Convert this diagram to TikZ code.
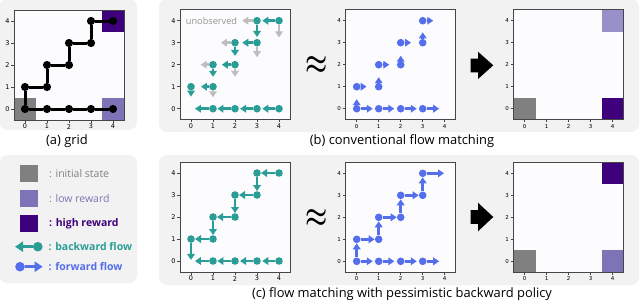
\documentclass[tikz,border=0pt]{standalone}
\usepackage{fontspec}
\setmainfont{Open Sans}
\newfontfamily\tickfam{DejaVu Sans}
\usetikzlibrary{arrows.meta}
\definecolor{panelbg}{RGB}{242,242,242}
\definecolor{plotbg}{RGB}{252,251,253}
\definecolor{initc}{RGB}{128,128,128}
\definecolor{lowc}{RGB}{125,115,183}
\definecolor{lowlc}{RGB}{152,144,200}
\definecolor{highc}{RGB}{63,0,125}
\definecolor{tealc}{RGB}{42,157,150}
\definecolor{bluec}{RGB}{84,110,236}
\definecolor{grayarr}{RGB}{190,190,190}
\definecolor{framec}{RGB}{70,70,70}
\definecolor{unobsc}{RGB}{150,150,150}
\tikzset{
  panel/.style={fill=panelbg, rounded corners=8pt},
  dotn/.style={circle, inner sep=0pt, minimum size=7.6pt, fill=#1},
  flowarr/.style={draw=#1, line width=2.8pt, -{Triangle[length=6pt,width=7.6pt]}},
  pathline/.style={draw=black, line width=3pt},
  framel/.style={draw=framec, line width=0.7pt},
  tickl/.style={draw=framec, line width=0.6pt},
  cell/.style={inner sep=0pt, minimum size=22pt},
  caption/.style={font=\fontsize{12.9}{15}\selectfont, inner sep=0pt},
  legtext/.style={anchor=west, inner sep=0pt, font=\fontsize{10.5}{12}\selectfont},
  legsq/.style={inner sep=0pt, minimum width=18pt, minimum height=17pt},
  approxs/.style={font=\fontsize{30}{30}\selectfont\boldmath, inner sep=0pt, yscale=1.3},
}
\newcommand{\plotback}{\fill[plotbg] (-0.5,-0.5) rectangle (4.5,4.5);}
\newcommand{\plotframe}[2]{%
  \draw[framel] (-0.5,-0.5) rectangle (4.5,4.5);
  \foreach \k in {0,...,4}{%
    \draw[tickl] (\k,-0.5) -- (\k,-0.62);
    \draw[tickl] (-0.5,\k) -- (-0.62,\k);
    \node[inner sep=0pt, font=\tickfam\fontsize{#2}{#2}\selectfont] (#1x\k) at (\k,-0.8) {\k};
    \node[inner sep=0pt, font=\tickfam\fontsize{#2}{#2}\selectfont] (#1y\k) at (-0.8,\k) {\k};
  }%
}
\begin{document}
\begin{tikzpicture}[x=1pt,y=-1pt]
\useasboundingbox (0,0) rectangle (640,303);
% panels
\fill[panel] (-0.5,-1) rectangle (137,130);
\fill[panel] (159,-1) rectangle (639,132);
\fill[panel] (-0.5,155) rectangle (137,283);
\fill[panel] (159,155) rectangle (639,285);

% ---------- (a) grid ----------
\begin{scope}[shift={(25,109)},x=22pt,y=22pt]
  \plotback
  \node[cell, fill=initc] (acell1) at (0,0) {};
  \node[cell, fill=lowc] (acell2) at (4,0) {};
  \node[cell, fill=highc] (acell3) at (4,4) {};
  \plotframe{a}{6.5}
  \foreach \p/\q in {0/0,1/0,2/0,3/0,4/0,0/1,1/1,1/2,2/2,2/3,3/3,3/4,4/4}
    \node[dotn=black, minimum size=8.2pt] (a\p\q) at (\p,\q) {};
  \draw[pathline] (a00) -- (a01) -- (a11) -- (a12) -- (a22) -- (a23) -- (a33) -- (a34) -- (a44);
  \draw[pathline] (a00) -- (a10) -- (a20) -- (a30) -- (a40);
\end{scope}
\node[caption] (capa) at (67,141.5) {(a) grid};

% ---------- (b1) backward, conventional ----------
\begin{scope}[shift={(191,108.7)},x=22pt,y=22pt]
  \plotback
  \plotframe{b}{6.5}
  \foreach \p/\q in {1/0,2/0,3/0,4/0,0/1,1/1,1/2,2/2,2/3,3/3,3/4,4/4}
    \node[dotn=tealc] (b\p\q) at (\p,\q) {};
  \foreach \s/\ex/\ey in {11/1/0.52,12/0.44/2,22/2/1.45,23/1.36/3,33/3/2.34,34/2.33/4,44/4/3.24}{
    \coordinate (b\s g) at (\ex,\ey);
    \draw[flowarr=grayarr] (b\s) -- (b\s g);
  }
  \foreach \s/\ex/\ey in {10/0.18/0,20/1.2/0,30/2.23/0,40/3.24/0,01/0/0.55,11/0.45/1,12/1/1.45,22/1.4/2,23/2/2.4,33/2.33/3,34/3/3.26,44/3.24/4}{
    \coordinate (b\s e) at (\ex,\ey);
    \draw[flowarr=tealc] (b\s) -- (b\s e);
  }
\end{scope}
\node[inner sep=0pt, text=unobsc, font=\fontsize{9.2}{10}\selectfont] (unobs) at (211.5,21.5) {unobserved};

\node[approxs] (approx1) at (317,65) {$\approx$};

% ---------- (b2) forward, conventional ----------
\begin{scope}[shift={(356.7,108.7)},x=22pt,y=22pt]
  \plotback
  \plotframe{f}{5.5}
  \foreach \p/\q in {0/0,1/0,2/0,3/0,0/1,1/1,1/2,2/2,2/3,3/3,3/4}
    \node[dotn=bluec] (f\p\q) at (\p,\q) {};
  \foreach \s/\ex/\ey in {00/0.73/0,10/1.71/0,20/2.73/0,30/3.75/0,01/0.45/1,11/1/1.43,12/1.48/2,22/2/2.41,23/2.47/3,33/3/3.47,34/3.48/4}{
    \coordinate (f\s e) at (\ex,\ey);
    \draw[flowarr=bluec] (f\s) -- (f\s e);
  }
  \coordinate (f00u) at (0,0.43);
  \draw[flowarr=bluec] (f00) -- (f00u);
\end{scope}

% big arrow (b)
\fill[black] (470.7,58.5) -- (478,58.5) -- (478,51.7) -- (493.3,65.3) -- (478,79) -- (478,72.3) -- (470.7,72.3) -- cycle;

% ---------- (b3) result ----------
\begin{scope}[shift={(524.7,108.7)},x=22pt,y=22pt]
  \plotback
  \node[cell, fill=initc] (rcell1) at (0,0) {};
  \node[cell, fill=highc] (rcell2) at (4,0) {};
  \node[cell, fill=lowlc] (rcell3) at (4,4) {};
  \plotframe{r}{5.5}
\end{scope}
\node[caption] (capb) at (402,141.5) {(b) conventional flow matching};

% ---------- legend ----------
\node[legsq, fill=initc] (lsq1) at (29,173.5) {};
\node[legsq, fill=lowc] (lsq2) at (29,198.5) {};
\node[legsq, fill=highc] (lsq3) at (29,223.5) {};
\node[legtext, text=initc] (lt1) at (49,173.5) {: initial state};
\node[legtext, text=lowc] (lt2) at (49,198.5) {: low reward};
\node[legtext, text=highc, font=\fontsize{10.5}{12}\selectfont\bfseries] (lt3) at (49,223.5) {: high reward};
\node[dotn=tealc, minimum size=9.6pt] (lgb) at (37.8,246.7) {};
\coordinate (lgbt) at (15,246.7);
\draw[draw=tealc, line width=3pt, -{Triangle[length=8pt,width=10pt]}] (lgb) -- (lgbt);
\node[legtext, text=tealc, font=\fontsize{10.5}{12}\selectfont\bfseries] (lt4) at (48.5,246.7) {: backward flow};
\node[dotn=bluec, minimum size=9.6pt] (lgf) at (20,266.7) {};
\coordinate (lgft) at (42.7,266.7);
\draw[draw=bluec, line width=3pt, -{Triangle[length=8pt,width=10pt]}] (lgf) -- (lgft);
\node[legtext, text=bluec, font=\fontsize{10.5}{12}\selectfont\bfseries] (lt5) at (48.5,266.7) {: forward flow};

% ---------- (c1) backward, pessimistic ----------
\begin{scope}[shift={(191,261)},x=22pt,y=22pt]
  \plotback
  \plotframe{p}{6.5}
  \foreach \p/\q in {1/0,2/0,3/0,4/0,0/1,1/1,1/2,2/2,2/3,3/3,3/4,4/4}
    \node[dotn=tealc] (p\p\q) at (\p,\q) {};
  \foreach \s/\t in {44/34,34/33,33/23,23/22,22/12,12/11,11/01}
    \draw[flowarr=tealc] (p\s) -- (p\t);
  \coordinate (p01e) at (0,0.05);
  \draw[flowarr=tealc] (p01) -- (p01e);
  \foreach \s/\ex/\ey in {10/0.18/0,20/1.2/0,30/2.23/0,40/3.24/0}{
    \coordinate (p\s e) at (\ex,\ey);
    \draw[flowarr=tealc] (p\s) -- (p\s e);
  }
\end{scope}

\node[approxs] (approx2) at (317,218) {$\approx$};

% ---------- (c2) forward, pessimistic ----------
\begin{scope}[shift={(356.7,261.3)},x=22pt,y=22pt]
  \plotback
  \plotframe{q}{5.5}
  \foreach \p/\q in {0/0,1/0,2/0,3/0,0/1,1/1,1/2,2/2,2/3,3/3,3/4}
    \node[dotn=bluec] (q\p\q) at (\p,\q) {};
  \foreach \s/\t in {00/01,01/11,11/12,12/22,22/23,23/33,33/34}
    \draw[flowarr=bluec] (q\s) -- (q\t);
  \coordinate (q34e) at (3.97,4);
  \draw[flowarr=bluec] (q34) -- (q34e);
  \foreach \s/\ex/\ey in {00/0.73/0,10/1.71/0,20/2.73/0,30/3.75/0}{
    \coordinate (q\s e) at (\ex,\ey);
    \draw[flowarr=bluec] (q\s) -- (q\s e);
  }
\end{scope}

% big arrow (c)
\fill[black] (470.7,210.2) -- (478,210.2) -- (478,202.7) -- (493.3,217) -- (478,231.3) -- (478,223.8) -- (470.7,223.8) -- cycle;

% ---------- (c3) result ----------
\begin{scope}[shift={(524.7,261)},x=22pt,y=22pt]
  \plotback
  \node[cell, fill=initc] (scell1) at (0,0) {};
  \node[cell, fill=lowc] (scell2) at (4,0) {};
  \node[cell, fill=highc] (scell3) at (4,4) {};
  \plotframe{s}{5.5}
\end{scope}
\node[caption] (capc) at (402,294) {(c) flow matching with pessimistic backward policy};
\end{tikzpicture}
\end{document}
